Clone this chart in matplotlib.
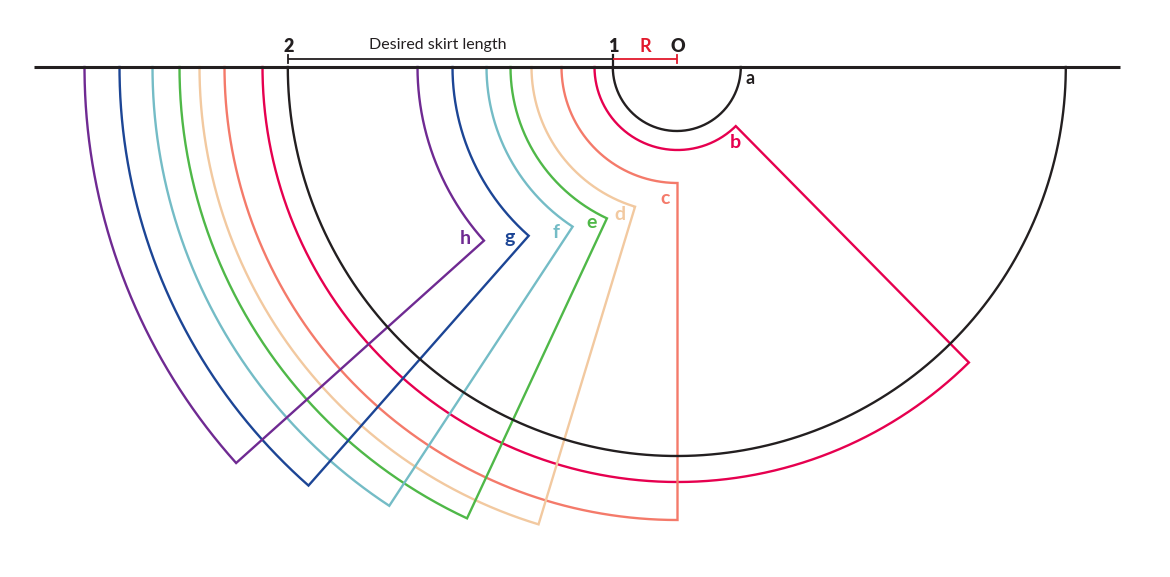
import numpy as np
import matplotlib.pyplot as plt

plt.rcParams['font.family'] = ['Lato', 'DejaVu Sans']

# panels: inner radius, outer radius, sweep in degrees measured from the left end of the line
names = ['b', 'c', 'd', 'e', 'f', 'g', 'h']
inner_r = [83, 116, 146, 167, 191, 225, 260]
outer_r = [415, 453, 478, 498, 525, 558, 593]
sweep = [134.6, 90, 73.1, 65, 56.7, 48.6, 41.9]
colors = ['#e6004f', '#f47a6a', '#f2c9a0', '#4fb848', '#74bcc6', '#1c4595', '#6f2a92']
label_x = [735, 665, 620, 592, 556, 510, 465]
label_y = [143, 198, 214, 222, 232, 238, 239]

center_x = 677.5
line_y = 67
small_r = 64
big_r = 389
black_x = 676.8


def panel(r1, r2, deg):
    t = np.radians(np.linspace(0, deg, 300))
    x1 = center_x - r1 * np.cos(t)
    y1 = line_y + r1 * np.sin(t)
    x2 = center_x - r2 * np.cos(t)
    y2 = line_y + r2 * np.sin(t)
    return np.r_[x1, x2[::-1]], np.r_[y1, y2[::-1]]


fig = plt.figure(figsize=(11.7, 5.77), dpi=100)
ax = fig.add_axes([0, 0, 1, 1])
ax.set_xlim(0, 1170)
ax.set_ylim(577, 0)
ax.axis('off')

for i in range(len(names)):
    px, py = panel(inner_r[i], outer_r[i], sweep[i])
    ax.plot(px, py, color=colors[i], lw=1.7, solid_joinstyle='miter')
    ax.text(label_x[i], label_y[i], names[i], color=colors[i], fontsize=14, fontweight='bold',
            ha='center', va='center')

# black circles and the top line
t = np.radians(np.linspace(0, 180, 300))
ax.plot(black_x - small_r * np.cos(t), line_y + small_r * np.sin(t), color='#231f20', lw=1.7)
ax.plot(black_x - big_r * np.cos(t), line_y + big_r * np.sin(t), color='#231f20', lw=1.7)
ax.plot([34, 1120], [line_y, line_y], color='#231f20', lw=2.2, solid_capstyle='butt')

# dimension lines
ax.plot([288, 613], [59, 59], color='#231f20', lw=1.3, solid_capstyle='butt')
ax.plot([288, 288], [55, 63], color='#231f20', lw=1.3)
ax.plot([613, 613], [55, 65], color='#231f20', lw=1.6)
ax.plot([613, 677], [59, 59], color='#e2192c', lw=1.3, solid_capstyle='butt')
ax.plot([677, 677], [55, 63], color='#e2192c', lw=1.3)

ax.text(289, 46, '2', color='#231f20', fontsize=13, fontweight='heavy', ha='center', va='center')
ax.text(438, 45, 'Desired skirt length', color='#231f20', fontsize=11.5, ha='center', va='center')
ax.text(613, 46, '1', color='#231f20', fontsize=13, fontweight='heavy', ha='center', va='center')
ax.text(645, 46, 'R', color='#e2192c', fontsize=13, fontweight='bold', ha='center', va='center')
ax.text(678, 46, 'O', color='#231f20', fontsize=13, fontweight='heavy', ha='center', va='center')
ax.text(750, 79, 'a', color='#231f20', fontsize=13, fontweight='bold', ha='center', va='center')

fig.savefig('out.png', dpi=100)
